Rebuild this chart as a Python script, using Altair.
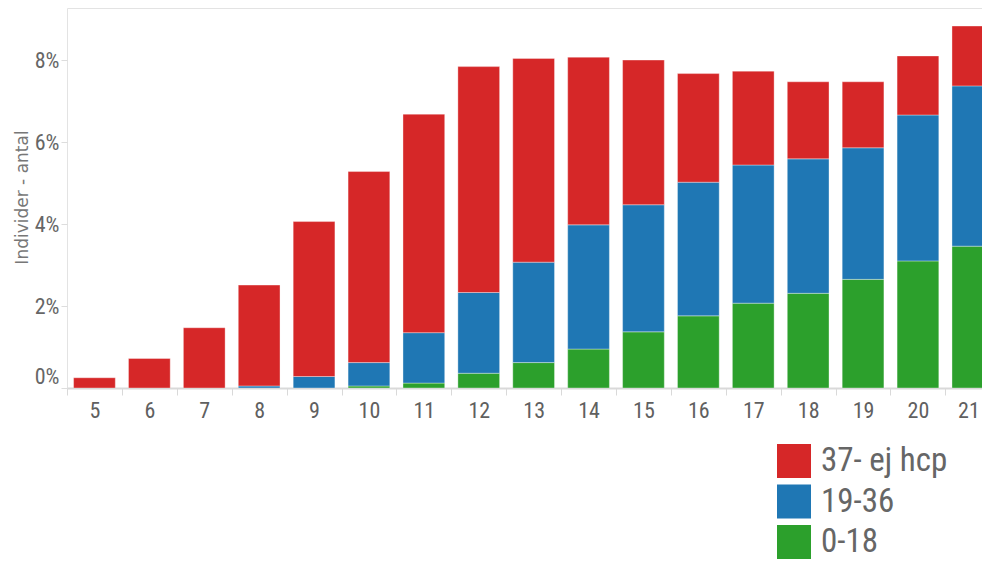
import altair as alt
import pandas as pd

ages = [5, 6, 7, 8, 9, 10, 11, 12, 13, 14, 15, 16, 17, 18, 19, 20, 21]
groups = ["37- ej hcp", "19-36", "0-18"]
colors = ["#d62728", "#1f77b4", "#2ca02c"]

# percent values per segment
g_0_18 = [0, 0, 0, 0, 0, 0.05, 0.12, 0.36, 0.62, 0.95, 1.37, 1.76, 2.07, 2.31, 2.65, 3.10, 3.46]
g_19_36 = [0, 0, 0, 0.05, 0.28, 0.57, 1.23, 1.97, 2.45, 3.03, 3.10, 3.26, 3.37, 3.28, 3.21, 3.56, 3.91]
g_37 = [0.25, 0.72, 1.47, 2.46, 3.78, 4.66, 5.33, 5.51, 4.97, 4.09, 3.53, 2.65, 2.29, 1.88, 1.61, 1.44, 1.46]

rows = []
for i, a in enumerate(ages):
    rows.append({"age": a, "group": "0-18", "ord": 0, "value": g_0_18[i] / 100})
    rows.append({"age": a, "group": "19-36", "ord": 1, "value": g_19_36[i] / 100})
    rows.append({"age": a, "group": "37- ej hcp", "ord": 2, "value": g_37[i] / 100})
df = pd.DataFrame(rows)

NARROW = "Liberation Sans Narrow, Roboto Condensed, Roboto"
STEP = 54.9          # px per age category in the reference
PLOT_W = 915         # visible plot width (page is cropped on the right)
HALF = 0.38          # half bar width in category units

last = ages[-1]
last_pos = last - 0.08   # keep the last label inside the cropped page
label_vals = ages[:-1] + [last_pos]
tick_vals = [a - 0.5 for a in ages] + label_vals

chart = alt.Chart(df).transform_stack(
    stack="value", groupby=["age"], as_=["y0", "y1"], sort=[alt.SortField("ord")]
).transform_calculate(
    xa=f"datum.age - {HALF}", xb=f"datum.age + {HALF}"
).mark_bar(
    stroke="white", strokeWidth=1, strokeOpacity=0.35, clip=True
).encode(
    x=alt.X(
        "xa:Q",
        title=None,
        scale=alt.Scale(domain=[4.5, 4.5 + PLOT_W / STEP], nice=False, zero=False),
        axis=alt.Axis(
            values=tick_vals,
            labelExpr=(
                f"datum.value === {last_pos} ? '{last}' : "
                "(datum.value % 1 === 0 ? format(datum.value, 'd') : '')"
            ),
            labelAngle=0,
            labelFont=NARROW,
            labelFontSize=22,
            labelColor="#606060",
            labelPadding=5,
            labelFlush=False,
            labelOverlap=False,
            labelBound=False,
            domainColor="#d9d9d9",
            domainWidth=2,
            tickColor=alt.condition(
                "(datum.value + 0.5) % 1 === 0", alt.value("#d9d9d9"), alt.value("transparent")
            ),
            tickSize=7,
            grid=False,
        ),
    ),
    x2="xb:Q",
    y=alt.Y(
        "y0:Q",
        scale=alt.Scale(domain=[0, 0.0927], nice=False),
        axis=alt.Axis(
            title="Individer - antal",
            titleFont="DejaVu Sans",
            titleFontSize=17,
            titleFontWeight="normal",
            titleColor="#777777",
            titleAngle=270,
            titleX=-45,
            titleY=189,
            titleAlign="center",
            titleBaseline="middle",
            values=[0, 0.02, 0.04, 0.06, 0.08],
            format=".0%",
            labelFont=NARROW,
            labelFontSize=22,
            labelColor="#666666",
            labelPadding=2,
            labelFlush=True,
            tickColor="#dddddd",
            tickSize=6,
            domain=False,
            grid=False,
        ),
    ),
    y2="y1:Q",
    color=alt.Color(
        "group:N",
        scale=alt.Scale(domain=groups, range=colors),
        legend=alt.Legend(
            title=None,
            orient="none",
            legendX=710,
            legendY=436,
            symbolType="square",
            symbolSize=1156,
            symbolStrokeWidth=0,
            labelFont=NARROW,
            labelFontSize=33,
            labelColor="#666666",
            labelOffset=10,
            rowPadding=6.5,
            padding=0,
        ),
    ),
).properties(
    width=PLOT_W,
    height=380,
    autosize=alt.AutoSizeParams(type="none"),
    padding={"left": 59, "top": 0, "right": 0, "bottom": 172},
).configure_view(
    stroke="#e3e3e3"
)

chart.save("out.html", embed_options={"renderer": "svg", "actions": False})
